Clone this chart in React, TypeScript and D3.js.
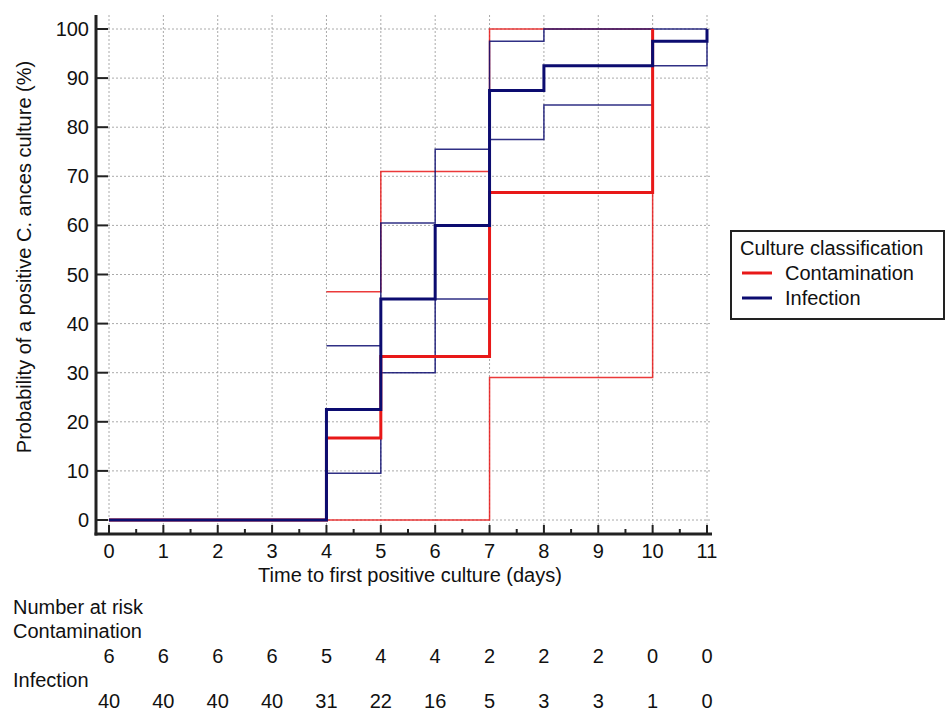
import React, { useRef, useEffect } from 'react';
import * as d3 from 'd3';

// Kaplan-Meier style cumulative curves (percent), step after each time
const days = [0, 1, 2, 3, 4, 5, 6, 7, 8, 9, 10, 11];
const yTicks = [0, 10, 20, 30, 40, 50, 60, 70, 80, 90, 100];

const contamTimes = [0, 4, 5, 7, 10];
const contamValues = [0, 16.7, 33.3, 66.7, 100];
const contamUpperTimes = [4, 5, 7, 10];
const contamUpperValues = [46.5, 71, 100, 100];
const contamLowerTimes = [4, 7, 10];
const contamLowerValues = [0, 29, 100];

const infectTimes = [0, 4, 5, 6, 7, 8, 10, 11];
const infectValues = [0, 22.5, 45, 60, 87.5, 92.5, 97.5, 100];
const infectUpperTimes = [4, 5, 6, 7, 8, 11];
const infectUpperValues = [35.5, 60.5, 75.5, 97.5, 100, 100];
const infectLowerTimes = [4, 5, 6, 7, 8, 10, 11];
const infectLowerValues = [9.5, 30, 45, 77.5, 84.5, 92.5, 100];

const contamAtRisk = [6, 6, 6, 6, 5, 4, 4, 2, 2, 2, 0, 0];
const infectAtRisk = [40, 40, 40, 40, 31, 22, 16, 5, 3, 3, 1, 0];

const RED = '#e81818';
const NAVY = '#0c0c70';
const FONT = '"Liberation Sans", Arial, sans-serif';

const App = () => {
  const chartRef = useRef<SVGSVGElement>(null);

  useEffect(() => {
    const svg = d3.select(chartRef.current);
    svg.selectAll('*').remove();

    const left = 96, right = 712, top = 15, bottom = 534;
    const x = d3.scaleLinear().domain([0, 11]).range([109, 707]);
    const y = d3.scaleLinear().domain([0, 100]).range([520, 29]);

    // grid
    const grid = svg.append('g')
      .attr('stroke', '#aaaaaa')
      .attr('stroke-width', 1)
      .attr('stroke-dasharray', '2,2');
    days.forEach(d => {
      grid.append('line')
        .attr('x1', x(d)).attr('x2', x(d))
        .attr('y1', top).attr('y2', bottom);
    });
    yTicks.forEach(v => {
      grid.append('line')
        .attr('x1', left).attr('x2', right)
        .attr('y1', y(v)).attr('y2', y(v));
    });

    // step curves
    const line = d3.line<[number, number]>()
      .x(d => x(d[0]))
      .y(d => y(d[1]))
      .curve(d3.curveStepAfter);
    const zip = (t: number[], v: number[]) => t.map((d, i) => [d, v[i]] as [number, number]);

    const curves = [
      { pts: zip(contamLowerTimes, contamLowerValues), color: RED, w: 1.5 },
      { pts: zip(contamUpperTimes, contamUpperValues), color: RED, w: 1.5 },
      { pts: zip(infectLowerTimes, infectLowerValues), color: NAVY, w: 1.5 },
      { pts: zip(infectUpperTimes, infectUpperValues), color: NAVY, w: 1.5 },
      { pts: zip(contamTimes, contamValues), color: RED, w: 3 },
      { pts: zip(infectTimes, infectValues), color: NAVY, w: 3 },
    ];
    curves.forEach(c => {
      svg.append('path')
        .attr('d', line(c.pts))
        .attr('fill', 'none')
        .attr('stroke', c.color)
        .attr('stroke-opacity', c.w < 2 ? 0.85 : 1)
        .attr('stroke-width', c.w);
    });

    // axes
    const axis = svg.append('g').attr('stroke', '#222').attr('stroke-linecap', 'butt');
    axis.append('line').attr('x1', left).attr('x2', left).attr('y1', top).attr('y2', bottom + 1.5).attr('stroke-width', 3);
    axis.append('line').attr('x1', left - 1.5).attr('x2', right).attr('y1', bottom).attr('y2', bottom).attr('stroke-width', 3);
    yTicks.forEach(v => {
      axis.append('line').attr('x1', left).attr('x2', left + 12)
        .attr('y1', y(v)).attr('y2', y(v)).attr('stroke-width', 2);
    });
    days.forEach(d => {
      axis.append('line').attr('x1', x(d)).attr('x2', x(d))
        .attr('y1', bottom).attr('y2', bottom - 9).attr('stroke-width', 2);
      if (d < 11) {
        axis.append('line').attr('x1', x(d + 0.5)).attr('x2', x(d + 0.5))
          .attr('y1', bottom).attr('y2', bottom - 5).attr('stroke-width', 2);
      }
    });

    const txt = svg.append('g').attr('font-family', FONT).attr('font-size', 20).attr('fill', '#111');

    yTicks.forEach(v => {
      txt.append('text').attr('x', 89).attr('y', y(v) + 7)
        .attr('text-anchor', 'end').text(v);
    });
    days.forEach(d => {
      txt.append('text').attr('x', x(d)).attr('y', 558)
        .attr('text-anchor', 'middle').text(d);
    });
    txt.append('text').attr('x', 410).attr('y', 582)
      .attr('text-anchor', 'middle').text('Time to first positive culture (days)');
    txt.append('text')
      .attr('transform', `translate(31,257) rotate(-90)`)
      .attr('text-anchor', 'middle')
      .text('Probability of a positive C. ances culture (%)');

    // number at risk
    txt.append('text').attr('x', 13).attr('y', 614).text('Number at risk');
    txt.append('text').attr('x', 13).attr('y', 638).text('Contamination');
    contamAtRisk.forEach((n, i) => {
      txt.append('text').attr('x', x(days[i])).attr('y', 663)
        .attr('text-anchor', 'middle').text(n);
    });
    txt.append('text').attr('x', 13).attr('y', 687).text('Infection');
    infectAtRisk.forEach((n, i) => {
      txt.append('text').attr('x', x(days[i])).attr('y', 708)
        .attr('text-anchor', 'middle').text(n);
    });

    // legend
    const lg = svg.append('g');
    lg.append('rect').attr('x', 731).attr('y', 231).attr('width', 213).attr('height', 88)
      .attr('fill', 'white').attr('stroke', '#222').attr('stroke-width', 2);
    lg.append('text').attr('x', 740).attr('y', 255).attr('font-family', FONT)
      .attr('font-size', 20).attr('fill', '#111').text('Culture classification');
    [
      { label: 'Contamination', color: RED, yy: 273 },
      { label: 'Infection', color: NAVY, yy: 298 },
    ].forEach(item => {
      lg.append('line').attr('x1', 742).attr('x2', 772).attr('y1', item.yy).attr('y2', item.yy)
        .attr('stroke', item.color).attr('stroke-width', 3);
      lg.append('text').attr('x', 785).attr('y', item.yy + 7).attr('font-family', FONT)
        .attr('font-size', 20).attr('fill', '#111').text(item.label);
    });
  }, []);

  return (
    <svg ref={chartRef} width={946} height={714}
      style={{ position: 'absolute', left: 0, top: 0, background: 'white' }}></svg>
  );
};

export default App;
